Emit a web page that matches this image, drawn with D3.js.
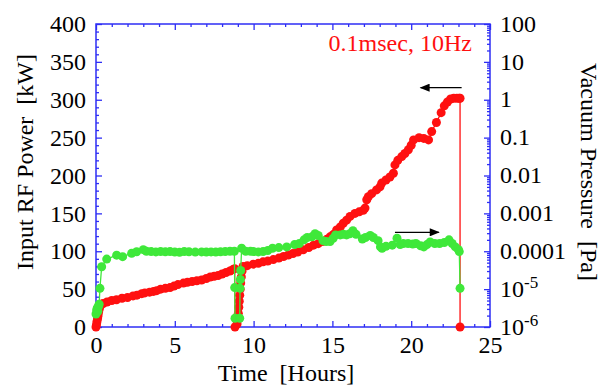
<!DOCTYPE html>
<html>
<head>
<meta charset="utf-8">
<script src="https://cdn.jsdelivr.net/npm/d3@7"></script>
<style>
  body { margin: 0; background: #fff; }
  text { font-family: "Liberation Serif", "Times New Roman", serif; }
</style>
</head>
<body>
<svg width="606" height="387"></svg>
<script>
// rf power (left axis) and vacuum pressure (right axis, log) vs time
var redTime = [0, 0.03, 0.06, 0.1, 0.13, 0.16, 0.2, 0.25, 0.32, 0.45,
  0.7, 1.0, 1.3, 1.65, 2.0, 2.35, 2.6, 2.9, 3.1, 3.4,
  3.65, 3.85, 4.1, 4.4, 4.7, 4.95, 5.2, 5.55, 5.8, 6.1,
  6.4, 6.7, 7.0, 7.25, 7.5, 7.75, 8.0, 8.25, 8.5, 8.7,
  8.8, 8.82, 8.95, 9.0, 9.03, 9.06, 9.09, 9.12, 9.15, 9.18,
  9.22, 9.27, 9.33, 9.6, 9.98, 10.3, 10.6, 10.9, 11.25, 11.6,
  11.9, 12.2, 12.5, 12.8, 13.15, 13.5, 13.8, 14.1, 14.4, 14.65,
  14.85, 15.05, 15.27, 15.5, 15.69, 15.9, 16.12, 16.43, 16.7, 16.96,
  17.07, 17.18, 17.28, 17.49, 17.8, 18.02, 18.13, 18.4, 18.65, 18.87,
  18.97, 19.15, 19.4, 19.6, 19.82, 20.0, 20.15, 20.5, 20.8, 21.1,
  21.3, 21.6, 21.9, 22.1, 22.3, 22.5, 22.7, 22.9, 23.05, 23.1,
  23.1];
var redPower = [0, 3, 7, 11, 15, 19, 23, 27, 30, 31,
  33, 35, 36, 38, 39, 41, 42, 44, 45, 46,
  47, 48, 50, 51, 52, 54, 56, 58, 59, 60,
  61, 62, 64, 66, 67, 68, 70, 72, 74, 76,
  77, 0, 4, 10, 18, 26, 34, 42, 50, 58,
  66, 74, 80, 81, 83, 84, 86, 87, 89, 91,
  93, 95, 97, 99, 102, 105, 108, 110, 113, 116,
  119, 122, 128, 132, 137, 141, 146, 150, 152, 154,
  157, 168, 172, 176, 181, 185, 190, 194, 198, 203,
  214, 220, 225, 229, 234, 240, 247, 250, 249, 247,
  258, 270, 283, 292, 297, 301, 302, 302, 302, 302,
  0];

var greenTime = [0, 0.04, 0.08, 0.12, 0.16, 0.2, 0.25, 0.36, 0.68, 1.31,
  1.69, 2.26, 2.58, 3.0, 3.2, 3.5, 3.8, 4.1, 4.4, 4.7,
  5.0, 5.3, 5.6, 5.9, 6.3, 6.7, 7.0, 7.3, 7.6, 7.9,
  8.2, 8.5, 8.78, 8.8, 8.82, 9.12, 9.14, 9.16, 9.18, 9.24,
  9.5, 9.8, 10.0, 10.3, 10.6, 10.9, 11.2, 11.6, 12.1, 12.6,
  12.9, 13.2, 13.4, 13.7, 13.9, 14.1, 14.4, 14.6, 14.85, 15.05,
  15.2, 15.5, 15.7, 15.9, 16.1, 16.3, 16.5, 16.9, 17.1, 17.4,
  17.6, 17.9, 18.05, 18.15, 18.4, 18.8, 19.1, 19.3, 19.5, 19.8,
  20.1, 20.3, 20.6, 20.8, 21.0, 21.2, 21.5, 21.8, 22.1, 22.4,
  22.6, 22.8, 23.0, 23.05, 23.1];
var greenPressure = [2.2e-6, 2.8e-6, 3.2e-6, 2.6e-6, 3.5e-6, 4e-6, 1.05e-5, 3.9e-5, 6.2e-5, 7.9e-5,
  7.2e-5, 8.8e-5, 9.7e-5, 1.1e-4, 1.0e-4, 9.8e-5, 9.6e-5, 9.8e-5, 9.7e-5, 9.8e-5,
  9.5e-5, 9.4e-5, 9.8e-5, 9.7e-5, 9.5e-5, 9.6e-5, 9.5e-5, 9.6e-5, 9.5e-5, 9.7e-5,
  9.8e-5, 1.0e-4, 1.0e-4, 1.1e-5, 1.7e-6, 1.7e-6, 1.05e-5, 1.8e-5, 3.1e-5, 1.2e-4,
  1.0e-4, 1.0e-4, 9.8e-5, 9.6e-5, 9.8e-5, 1.05e-4, 1.2e-4, 1.25e-4, 1.3e-4, 1.5e-4,
  1.6e-4, 2.0e-4, 2.3e-4, 2.4e-4, 2.9e-4, 2.6e-4, 1.9e-4, 1.8e-4, 1.8e-4, 2.2e-4,
  2.7e-4, 2.7e-4, 2.8e-4, 2.7e-4, 2.9e-4, 3.5e-4, 2.8e-4, 2.1e-4, 2.3e-4, 2.6e-4,
  2.3e-4, 1.9e-4, 1.3e-4, 1.2e-4, 1.35e-4, 1.45e-4, 2.2e-4, 1.5e-4, 1.6e-4, 1.6e-4,
  1.55e-4, 1.6e-4, 1.4e-4, 1.3e-4, 1.5e-4, 1.75e-4, 1.6e-4, 1.6e-4, 1.7e-4, 2.0e-4,
  1.6e-4, 1.3e-4, 1.1e-4, 9.8e-5, 1.05e-5];

var xTicks = [0, 5, 10, 15, 20, 25];
var leftTicks = [0, 50, 100, 150, 200, 250, 300, 350, 400];
var rightTicks = [1e-6, 1e-5, 1e-4, 1e-3, 1e-2, 1e-1, 1, 10, 100];
var rightLabels = [["10", "-6"], ["10", "-5"], ["0.0001"], ["0.001"], ["0.01"], ["0.1"], ["1"], ["10"], ["100"]];
var noteText = "0.1msec, 10Hz";

var svg = d3.select('svg');
var m = {left: 96, top: 24, right: 116, bottom: 60};
var w = +svg.attr('width') - m.left - m.right;
var h = +svg.attr('height') - m.top - m.bottom;
var blue = '#2e2ef5', red = '#ff1010', green = '#3fe83a';
var fontSize = '24px';

var g = svg.append('g').attr('transform', 'translate(' + m.left + ',' + m.top + ')');

var x = d3.scaleLinear().domain([0, 25]).range([0, w]);
var y = d3.scaleLinear().domain([0, 400]).range([h, 0]);
var yp = d3.scaleLog().domain([1e-6, 100]).range([h, 0]);

// minor tick values
var xMinor = d3.range(0, 26, 1).filter(function(d) { return d % 5 != 0; });
var yMinor = d3.range(0, 401, 10).filter(function(d) { return d % 50 != 0; });
var pMinor = [];
rightTicks.slice(0, -1).forEach(function(d) {
  for (var k = 2; k < 10; k++) pMinor.push(d * k);
});

function styleAxis(sel) {
  sel.selectAll('line').attr('stroke', blue).attr('stroke-width', 1.3);
  sel.selectAll('path').remove();
  sel.selectAll('text').attr('fill', '#000').style('font-size', fontSize)
    .style('font-family', '"Liberation Serif", "Times New Roman", serif');
}

// bottom + top
g.append('g').attr('transform', 'translate(0,' + h + ')')
  .call(d3.axisBottom(x).tickValues(xTicks).tickSizeInner(-6).tickSizeOuter(0).tickPadding(9).tickFormat(d3.format('d')))
  .call(styleAxis);
g.append('g').attr('transform', 'translate(0,' + h + ')')
  .call(d3.axisBottom(x).tickValues(xMinor).tickSizeInner(-3).tickSizeOuter(0).tickFormat(''))
  .call(styleAxis);
g.append('g')
  .call(d3.axisTop(x).tickValues(xTicks).tickSizeInner(-6).tickSizeOuter(0).tickFormat(''))
  .call(styleAxis);
g.append('g')
  .call(d3.axisTop(x).tickValues(xMinor).tickSizeInner(-3).tickSizeOuter(0).tickFormat(''))
  .call(styleAxis);

// left
g.append('g')
  .call(d3.axisLeft(y).tickValues(leftTicks).tickSizeInner(-6).tickSizeOuter(0).tickPadding(10).tickFormat(d3.format('d')))
  .call(styleAxis);
g.append('g')
  .call(d3.axisLeft(y).tickValues(yMinor).tickSizeInner(-3).tickSizeOuter(0).tickFormat(''))
  .call(styleAxis);

// right (log)
g.append('g').attr('transform', 'translate(' + w + ',0)')
  .call(d3.axisRight(yp).tickValues(rightTicks).tickSizeInner(-6).tickSizeOuter(0).tickFormat(''))
  .call(styleAxis);
g.append('g').attr('transform', 'translate(' + w + ',0)')
  .call(d3.axisRight(yp).tickValues(pMinor).tickSizeInner(-3).tickSizeOuter(0).tickFormat(''))
  .call(styleAxis);

var rl = g.append('g').selectAll('text')
  .data(rightTicks)
  .enter().append('text')
  .attr('x', w + 10)
  .attr('y', function(d) { return yp(d); })
  .attr('dy', '0.32em')
  .style('font-size', fontSize);
rl.each(function(d, i) {
  var t = d3.select(this);
  var lab = rightLabels[i];
  t.append('tspan').text(lab[0]);
  if (lab[1]) t.append('tspan').attr('dy', -9).style('font-size', '17px').text(lab[1]);
});

// frame
g.append('rect').attr('width', w).attr('height', h)
  .attr('fill', 'none').attr('stroke', blue).attr('stroke-width', 1.5);

// series
var redData = redTime.map(function(t, i) { return [t, redPower[i]]; });
var greenData = greenTime.map(function(t, i) { return [t, greenPressure[i]]; });

var redLine = d3.line().x(function(d) { return x(d[0]); }).y(function(d) { return y(d[1]); });
var greenLine = d3.line().x(function(d) { return x(d[0]); }).y(function(d) { return yp(d[1]); });

g.append('path').datum(redData).attr('d', redLine)
  .attr('fill', 'none').attr('stroke', red).attr('stroke-width', 1.3);
g.selectAll('.rdot').data(redData).enter().append('circle')
  .attr('class', 'rdot')
  .attr('cx', function(d) { return x(d[0]); })
  .attr('cy', function(d) { return y(d[1]); })
  .attr('r', 4.5).attr('fill', red);

g.append('path').datum(greenData).attr('d', greenLine)
  .attr('fill', 'none').attr('stroke', green).attr('stroke-width', 1.3);
g.selectAll('.gdot').data(greenData).enter().append('circle')
  .attr('class', 'gdot')
  .attr('cx', function(d) { return x(d[0]); })
  .attr('cy', function(d) { return yp(d[1]); })
  .attr('r', 4.5).attr('fill', green);

// arrows
svg.append('defs').append('marker')
  .attr('id', 'ah').attr('viewBox', '0 0 10 8').attr('refX', 9).attr('refY', 4)
  .attr('markerWidth', 12).attr('markerHeight', 8).attr('markerUnits', 'userSpaceOnUse')
  .attr('orient', 'auto')
  .append('path').attr('d', 'M0,0 L10,4 L0,8 Z').attr('fill', '#000');

g.append('line')
  .attr('x1', x(23.2)).attr('x2', x(20.6))
  .attr('y1', y(316)).attr('y2', y(316))
  .attr('stroke', '#000').attr('stroke-width', 1.2).attr('marker-end', 'url(#ah)');
g.append('line')
  .attr('x1', x(18.97)).attr('x2', x(21.75))
  .attr('y1', y(125)).attr('y2', y(125))
  .attr('stroke', '#000').attr('stroke-width', 1.2).attr('marker-end', 'url(#ah)');

// note
g.append('text')
  .attr('x', x(23.85)).attr('y', y(364))
  .attr('text-anchor', 'end').attr('fill', red)
  .style('font-size', '24px')
  .text(noteText);

// axis titles
svg.append('text')
  .attr('x', 286).attr('y', 381)
  .attr('text-anchor', 'middle')
  .style('font-size', fontSize).style('white-space', 'pre')
  .text('Time  [Hours]');

svg.append('text')
  .attr('transform', 'translate(33,162) rotate(-90)')
  .attr('text-anchor', 'middle')
  .style('font-size', fontSize).style('white-space', 'pre')
  .text('Input RF Power  [kW]');

svg.append('text')
  .attr('transform', 'translate(581,172) rotate(90)')
  .attr('text-anchor', 'middle')
  .style('font-size', fontSize).style('white-space', 'pre')
  .text('Vacuum Pressure  [Pa]');
</script>
</body>
</html>
